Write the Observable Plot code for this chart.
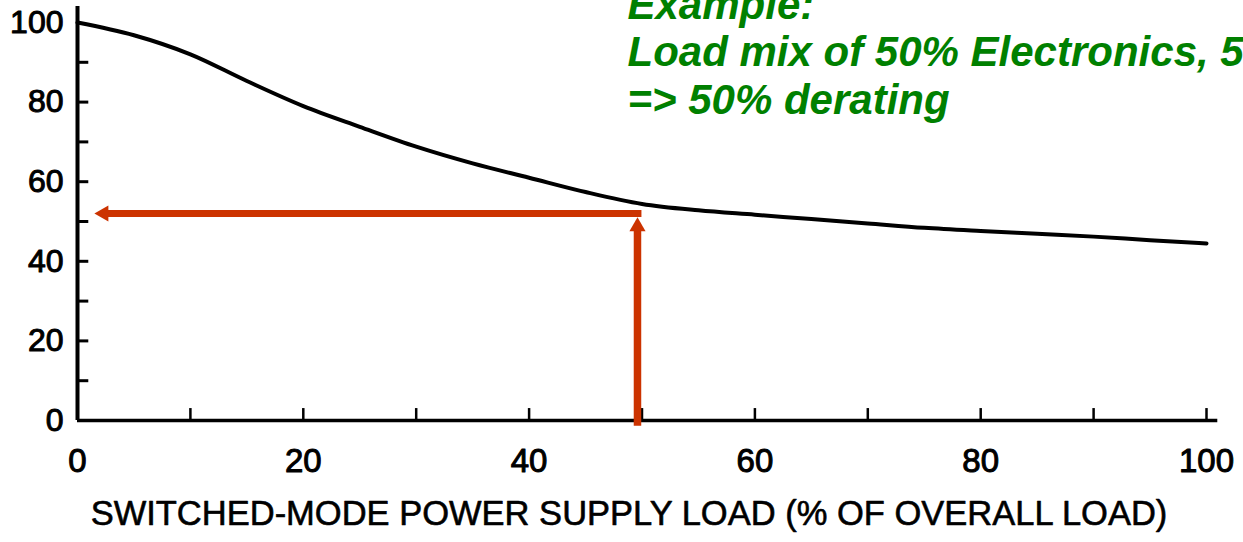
<!DOCTYPE html>
<html>
<head>
<meta charset="utf-8">
<script src="https://cdn.jsdelivr.net/npm/d3@7"></script>
<script src="https://cdn.jsdelivr.net/npm/@observablehq/plot@0.6"></script>
<style>
  html, body { margin: 0; padding: 0; background: #fff; overflow: hidden; }
  #chart { width: 1243px; height: 542px; }
</style>
</head>
<body>
<div id="chart"></div>
<script>
// ---- data ----
const loadPct     = [0, 5, 10, 15, 20, 25, 30, 35, 40, 45, 50, 55, 60, 65, 70, 75, 80, 85, 90, 95, 100];
const capacityPct = [100, 96.8, 92, 85.3, 79, 73.8, 68.8, 64.6, 61, 57.4, 54.4, 52.8, 51.7, 50.6, 49.5, 48.4, 47.6, 46.9, 46.2, 45.3, 44.5];

const yTickLabels = [0, 20, 40, 60, 80, 100];
const yTickMarks  = [10, 20, 30, 40, 50, 60, 70, 80, 90];
const xTickLabels = [0, 20, 40, 60, 80, 100];
const xTickMarks  = [10, 20, 30, 40, 50, 60, 70, 80, 90, 100];

const axisTitle = "SWITCHED-MODE POWER SUPPLY LOAD (% OF OVERALL LOAD)";
const noteLines = ["Example:", "Load mix of 50% Electronics, 50%", "=> 50% derating"];

// example read-off: 50% SMPS load -> ~52% capacity
const exampleLoad = 49.6;
const exampleCapacity = 52;
const exampleHeadBase = 48.5;
const exampleTipLoad = 1.5;
const exampleShaftLeft = 2.6;
const exampleShaftRight = 49.95;
const exampleStartCapacity = -1.3;

// axis extents (data units)
const xAxisEnd = 101;
const yAxisEnd = 104;
const yTickLen = 1;   // in x units
const xTickLen = 3;   // in y units

const curve = loadPct.map((x, i) => ({x, y: capacityPct[i]}));

const red = "#cc3300";
const green = "#008000";
const font = "'Liberation Sans', Arial, Helvetica, sans-serif";

const chart = Plot.plot({
  width: 1243,
  height: 542,
  marginLeft: 77,
  marginRight: 37,
  marginTop: 22,
  marginBottom: 122,
  x: {domain: [0, 100], axis: null},
  y: {domain: [0, 100], axis: null},
  style: {fontFamily: font, background: "#fff", overflow: "visible"},
  marks: [
    // axes lines
    Plot.ruleY([0], {x1: 0, x2: xAxisEnd, stroke: "#000", strokeWidth: 3.5}),
    Plot.ruleX([0], {y1: 0, y2: yAxisEnd, stroke: "#000", strokeWidth: 4}),
    // inward ticks
    Plot.ruleY(yTickMarks, {y: d => d, x1: 0, x2: yTickLen, stroke: "#000", strokeWidth: 3}),
    Plot.ruleX(xTickMarks, {x: d => d, y1: 0, y2: xTickLen, stroke: "#000", strokeWidth: 2.5}),
    // tick labels
    Plot.text(yTickLabels, {x: 0, y: d => d, text: d => String(d), textAnchor: "end", dx: -14, fontSize: 32, fill: "#000", stroke: "#000", strokeWidth: 1}),
    Plot.text(xTickLabels, {x: d => d, y: 0, text: d => String(d), dy: 41, fontSize: 33, fill: "#000", stroke: "#000", strokeWidth: 1}),
    // axis title
    Plot.text([axisTitle], {frameAnchor: "bottom", text: d => d, dx: -13, dy: 104, fontSize: 34.5, fill: "#000", stroke: "#000", strokeWidth: 0.6}),
    // curve
    Plot.line(curve, {x: "x", y: "y", curve: "monotone-x", stroke: "#000", strokeWidth: 4}),
    // red example arrows
    Plot.link([0], {x1: exampleLoad, x2: exampleLoad, y1: exampleStartCapacity, y2: exampleHeadBase, stroke: red, strokeWidth: 7.5, strokeLinecap: "butt"}),
    Plot.dot([0], {x: exampleLoad, y: exampleCapacity, symbol: "triangle", r: 6, dy: 13, fill: red, stroke: "none"}),
    Plot.link([0], {x1: exampleShaftRight, x2: exampleShaftLeft, y1: exampleCapacity, y2: exampleCapacity, stroke: red, strokeWidth: 7, strokeLinecap: "butt"}),
    Plot.dot([0], {x: exampleTipLoad, y: exampleCapacity, symbol: "triangle", r: 6, rotate: -90, dx: 9.3, fill: red, stroke: "none"}),
    // green note
    Plot.text([noteLines.join("\n")], {frameAnchor: "top-left", text: d => d, textAnchor: "start", lineAnchor: "top", lineHeight: 1.14, dx: 550, dy: -38, fontSize: 42, fontWeight: "bold", fontStyle: "italic", fill: green})
  ]
});

document.getElementById("chart").appendChild(chart);
</script>
</body>
</html>
